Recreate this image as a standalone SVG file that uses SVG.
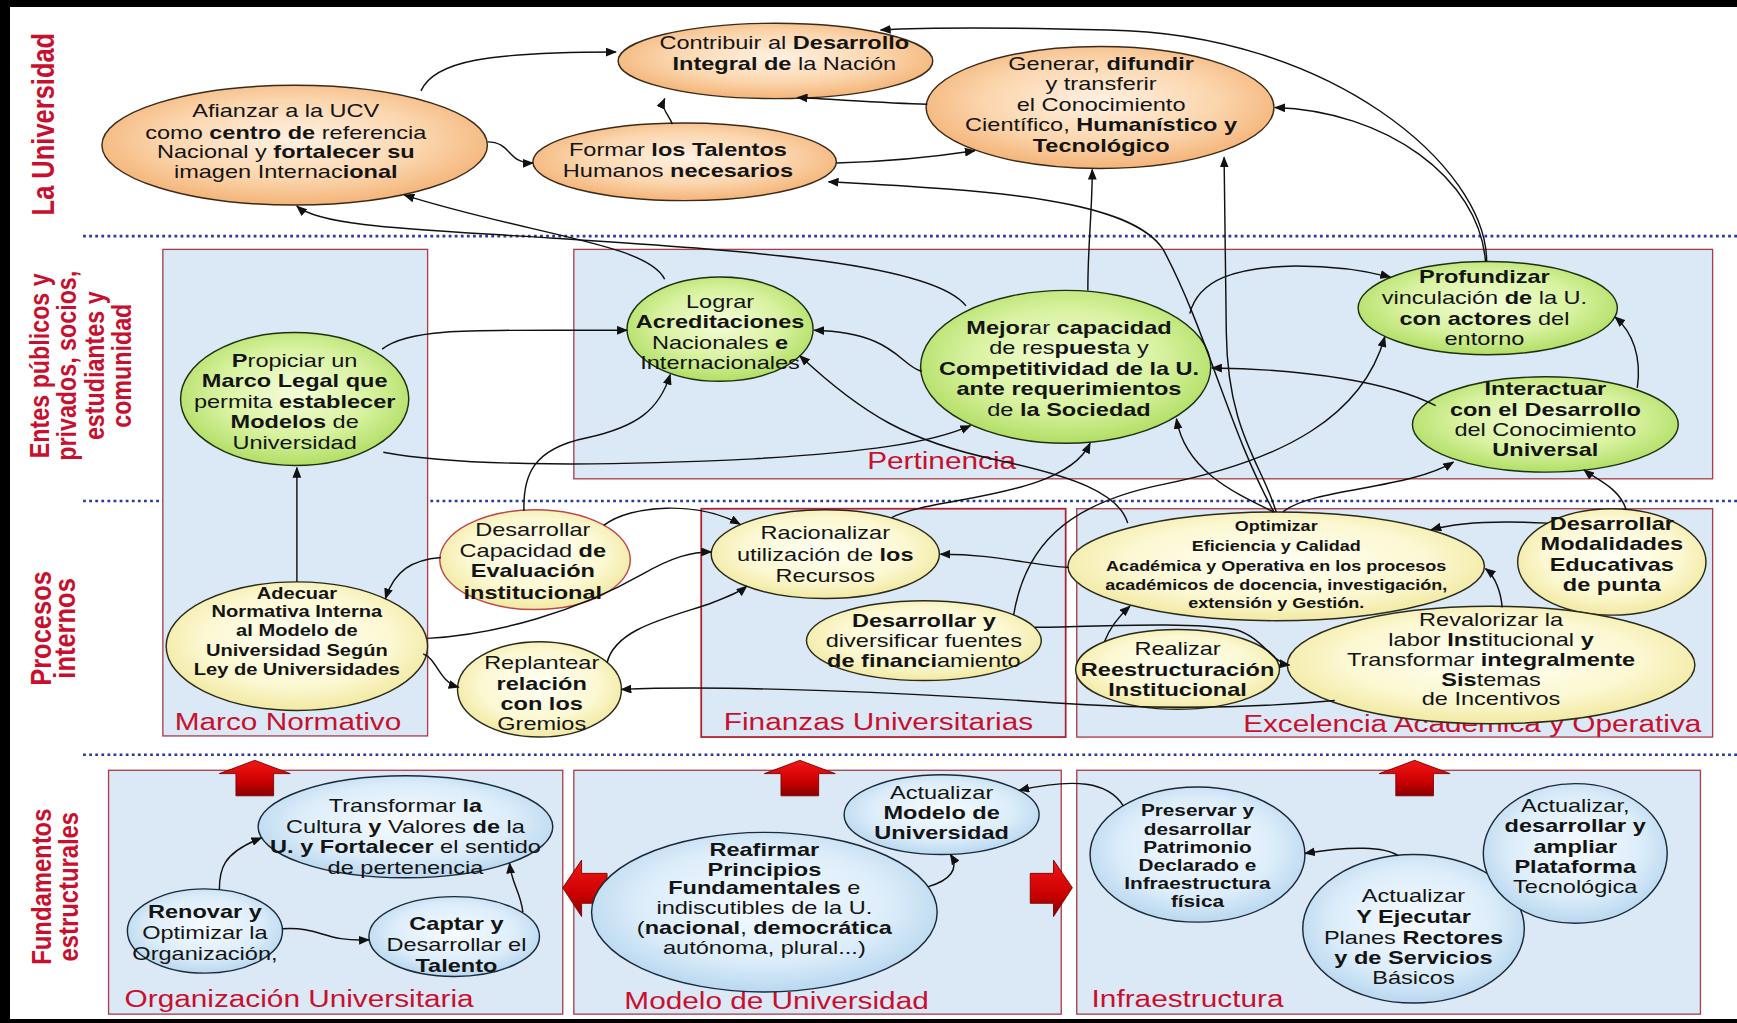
<svg xmlns="http://www.w3.org/2000/svg" width="1737" height="1023" viewBox="0 0 1737 1023">
<defs>
<style>
.t{font-family:"Liberation Sans",Arial,sans-serif;font-size:17px;fill:#141414;text-anchor:middle;transform-box:fill-box;transform-origin:center;transform:scaleX(1.25)}
.sm{font-size:14.5px;font-weight:bold}
.xs{font-size:13px;font-weight:bold}
.pv{font-size:15px;font-weight:bold}
.b{font-weight:bold}
.bl{font-family:"Liberation Sans",Arial,sans-serif;font-size:21.5px;fill:#c8102e;text-anchor:middle;transform-box:fill-box;transform-origin:center;transform:scaleX(1.25)}
.rl{font-family:"Liberation Sans",Arial,sans-serif;font-weight:bold;fill:#c8102e;text-anchor:middle}
.box{fill:#dbe8f6;stroke:#a8404a;stroke-width:1.2}
.o{fill:url(#gO);stroke:#3a2a1a;stroke-width:1.3}
.g{fill:url(#gG);stroke:#1e3010;stroke-width:1.3}
.y{fill:url(#gY);stroke:#2a2a1a;stroke-width:1.3}
.yr{fill:url(#gY);stroke:#c04848;stroke-width:1.3}
.u{fill:url(#gB);stroke:#1a2a3a;stroke-width:1.3}
.c{fill:none;stroke:#111;stroke-width:1.3;marker-end:url(#ah)}
.dot{stroke:#2a3a9c;stroke-width:2.4;stroke-dasharray:2.5 3}
.ba{fill:url(#gR);stroke:#7a0000;stroke-width:0.8}
</style>
<radialGradient id="gO" cx="0.5" cy="0.45" r="0.6"><stop offset="0" stop-color="#fff1e2"/><stop offset="0.55" stop-color="#fbd6ae"/><stop offset="1" stop-color="#f2ac6c"/></radialGradient>
<radialGradient id="gG" cx="0.5" cy="0.45" r="0.6"><stop offset="0" stop-color="#f4fdd8"/><stop offset="0.55" stop-color="#d8f2a0"/><stop offset="1" stop-color="#a8da58"/></radialGradient>
<radialGradient id="gY" cx="0.5" cy="0.45" r="0.6"><stop offset="0" stop-color="#fffff4"/><stop offset="0.6" stop-color="#fcf8d2"/><stop offset="1" stop-color="#efe596"/></radialGradient>
<radialGradient id="gB" cx="0.5" cy="0.45" r="0.6"><stop offset="0" stop-color="#f6fbff"/><stop offset="0.6" stop-color="#dcedfa"/><stop offset="1" stop-color="#b0d2ec"/></radialGradient>
<linearGradient id="gR" x1="0" y1="0" x2="0" y2="1"><stop offset="0" stop-color="#f01818"/><stop offset="0.6" stop-color="#cc0000"/><stop offset="1" stop-color="#8a0000"/></linearGradient>
<marker id="ah" viewBox="0 0 10 8" refX="9" refY="4" markerWidth="10" markerHeight="8" markerUnits="userSpaceOnUse" orient="auto"><path d="M0,0 L10,4 L0,8 z" fill="#111"/></marker>
</defs>
<rect width="1737" height="1023" fill="#ffffff"/>
<g transform="scale(1.10778,1.10834)">
<!-- lane separators -->
<g id="lanes">
<line class="dot" x1="75" y1="213" x2="1568" y2="213"/>
<line class="dot" x1="75" y1="452" x2="1568" y2="452"/>
<line class="dot" x1="75" y1="681" x2="1568" y2="681"/>
<text class="rl" font-size="23" transform="translate(49,112) scale(1.2,1) rotate(-90)">La Universidad</text>
<text class="rl" font-size="21" transform="translate(44,330) scale(1.15,1) rotate(-90)">Entes públicos y</text>
<text class="rl" font-size="21" transform="translate(69,330) scale(1.15,1) rotate(-90)">privados, socios,</text>
<text class="rl" font-size="21" transform="translate(94,330) scale(1.15,1) rotate(-90)">estudiantes y</text>
<text class="rl" font-size="21" transform="translate(118,330) scale(1.15,1) rotate(-90)">comunidad</text>
<text class="rl" font-size="23" transform="translate(46,567) scale(1.15,1) rotate(-90)">Procesos</text>
<text class="rl" font-size="23" transform="translate(68,567) scale(1.15,1) rotate(-90)">internos</text>
<text class="rl" font-size="21.5" transform="translate(46,800) scale(1.15,1) rotate(-90)">Fundamentos</text>
<text class="rl" font-size="21.5" transform="translate(70,800) scale(1.15,1) rotate(-90)">estructurales</text>
</g>
<!-- perspective boxes -->
<g id="box-marco"><rect class="box" x="147" y="225" width="239" height="439"/><text class="bl" x="260" y="659">Marco Normativo</text></g>
<g id="box-pertinencia"><rect class="box" x="518" y="225" width="1028" height="207"/><text class="bl" x="850" y="423">Pertinencia</text></g>
<g id="box-finanzas"><rect class="box" x="633" y="459" width="329" height="206" style="stroke:#b02030;stroke-width:1.6"/><text class="bl" x="793" y="659">Finanzas Universitarias</text></g>
<g id="box-excelencia"><rect class="box" x="972" y="459" width="574" height="206"/><text class="bl" x="1329" y="660">Excelencia Académica y Operativa</text></g>
<g id="box-organizacion"><rect class="box" x="98" y="695" width="410" height="220"/><text class="bl" x="270" y="909">Organización Universitaria</text></g>
<g id="box-modelo"><rect class="box" x="518" y="695" width="440" height="220"/><text class="bl" x="701" y="910">Modelo de Universidad</text></g>
<g id="box-infraestructura"><rect class="box" x="972" y="695" width="563" height="220"/><text class="bl" x="1072" y="909">Infraestructura</text></g>
<!-- block arrows -->
<g id="block-arrows">
<polygon class="ba" points="230,686 262,698 247,698 247,718 213,718 213,698 198,698"/>
<polygon class="ba" points="722,686 754,698 739,698 739,718 705,718 705,698 690,698"/>
<polygon class="ba" points="1277,686 1309,698 1294,698 1294,718 1260,718 1260,698 1245,698"/>
<polygon class="ba" points="508,801 525,776 525,788 548,788 548,815 525,815 525,827"/>
<polygon class="ba" points="968,801 951,776 951,788 930,788 930,815 951,815 951,827"/>
</g>
<!-- nodes: La Universidad -->
<g id="n-contribuir"><ellipse class="o" cx="700" cy="55" rx="142" ry="34"/>
<text class="t"><tspan x="708" y="44">Contribuir al <tspan class="b">Desarrollo</tspan></tspan><tspan x="708" y="63"><tspan class="b">Integral de</tspan> la Nación</tspan></text></g>
<g id="n-afianzar"><ellipse class="o" cx="266" cy="131" rx="174" ry="54"/>
<text class="t"><tspan x="258" y="106">Afianzar a la UCV</tspan><tspan x="258" y="125">como <tspan class="b">centro de</tspan> referencia</tspan><tspan x="258" y="143">Nacional y <tspan class="b">fortalecer su</tspan></tspan><tspan x="258" y="161">imagen Internac<tspan class="b">ional</tspan></tspan></text></g>
<g id="n-formar"><ellipse class="o" cx="618" cy="146" rx="137" ry="35"/>
<text class="t"><tspan x="612" y="141">Formar <tspan class="b">los Talentos</tspan></tspan><tspan x="612" y="160">Humanos <tspan class="b">necesarios</tspan></tspan></text></g>
<g id="n-generar"><ellipse class="o" cx="993" cy="97" rx="157" ry="55"/>
<text class="t"><tspan x="994" y="63">Generar, <tspan class="b">difundir</tspan></tspan><tspan x="994" y="81">y transferir</tspan><tspan x="994" y="100">el Conocimiento</tspan><tspan x="994" y="118">Científico, <tspan class="b">Humanístico y</tspan></tspan><tspan x="994" y="137" class="b">Tecnológico</tspan></text></g>
<!-- nodes: Entes -->
<g id="n-propiciar"><ellipse class="g" cx="266" cy="360" rx="103" ry="60"/>
<text class="t"><tspan x="266" y="331"><tspan class="b">P</tspan>ropiciar un</tspan><tspan x="266" y="349" class="b">Marco Legal que</tspan><tspan x="266" y="368">permita <tspan class="b">establecer</tspan></tspan><tspan x="266" y="386"><tspan class="b">Modelos</tspan> de</tspan><tspan x="266" y="405">Universidad</tspan></text></g>
<g id="n-lograr"><ellipse class="g" cx="650" cy="297" rx="84" ry="47"/>
<text class="t"><tspan x="650" y="278">Lograr</tspan><tspan x="650" y="296" class="b">Acreditaciones</tspan><tspan x="650" y="315">Nacionales <tspan class="b">e</tspan></tspan><tspan x="650" y="333">Internacionales</tspan></text></g>
<g id="n-mejorar"><ellipse class="g" cx="962" cy="331" rx="131" ry="69"/>
<text class="t"><tspan x="965" y="301"><tspan class="b">Mejor</tspan>ar <tspan class="b">capacidad</tspan></tspan><tspan x="965" y="319">de res<tspan class="b">puest</tspan>a y</tspan><tspan x="965" y="338" class="b">Competitividad de la U.</tspan><tspan x="965" y="356" class="b">ante requerimientos</tspan><tspan x="965" y="375">de <tspan class="b">la Sociedad</tspan></tspan></text></g>
<g id="n-profundizar"><ellipse class="g" cx="1343" cy="278" rx="117" ry="42"/>
<text class="t"><tspan x="1340" y="255" class="b">Profundizar</tspan><tspan x="1340" y="274">vinculación <tspan class="b">de</tspan> la U.</tspan><tspan x="1340" y="293"><tspan class="b">con actores</tspan> del</tspan><tspan x="1340" y="311">entorno</tspan></text></g>
<g id="n-interactuar"><ellipse class="g" cx="1395" cy="383" rx="120" ry="43"/>
<text class="t"><tspan x="1395" y="356" class="b">Interactuar</tspan><tspan x="1395" y="375" class="b">con el Desarrollo</tspan><tspan x="1395" y="393">del Conocimiento</tspan><tspan x="1395" y="411" class="b">Universal</tspan></text></g>
<!-- nodes: Procesos internos -->
<g id="n-adecuar"><ellipse class="y" cx="268" cy="583" rx="118" ry="58"/>
<text class="t sm"><tspan x="268" y="540">Adecuar</tspan><tspan x="268" y="557">Normativa Interna</tspan><tspan x="268" y="574">al Modelo de</tspan><tspan x="268" y="592">Universidad Según</tspan><tspan x="268" y="609">Ley de Universidades</tspan></text></g>
<g id="n-evaluacion"><ellipse class="yr" cx="483" cy="505" rx="86" ry="45"/>
<text class="t"><tspan x="481" y="484">Desarrollar</tspan><tspan x="481" y="503">Capacidad <tspan class="b">de</tspan></tspan><tspan x="481" y="521" class="b">Evaluación</tspan><tspan x="481" y="540" class="b">institucional</tspan></text></g>
<g id="n-racionalizar"><ellipse class="y" cx="745" cy="500" rx="103" ry="40"/>
<text class="t"><tspan x="745" y="486">Racionalizar</tspan><tspan x="745" y="506">utilización de <tspan class="b">los</tspan></tspan><tspan x="745" y="525">Recursos</tspan></text></g>
<g id="n-fuentes"><ellipse class="y" cx="834" cy="578" rx="106" ry="36"/>
<text class="t"><tspan x="834" y="566" class="b">Desarrollar y</tspan><tspan x="834" y="584">diversificar fuentes</tspan><tspan x="834" y="602"><tspan class="b">de financi</tspan>amiento</tspan></text></g>
<g id="n-replantear"><ellipse class="y" cx="487" cy="622" rx="74" ry="43"/>
<text class="t"><tspan x="489" y="604">Replantear</tspan><tspan x="489" y="623" class="b">relación</tspan><tspan x="489" y="641" class="b">con los</tspan><tspan x="489" y="659">Gremios</tspan></text></g>
<g id="n-optimizar"><ellipse class="y" cx="1152" cy="511" rx="188" ry="49"/>
<text class="t xs"><tspan x="1152" y="479">Optimizar</tspan><tspan x="1152" y="497">Eficiencia y Calidad</tspan><tspan x="1152" y="515">Académica y Operativa en los procesos</tspan><tspan x="1152" y="532">académicos de docencia, investigación,</tspan><tspan x="1152" y="549">extensión y Gestión.</tspan></text></g>
<g id="n-modalidades"><ellipse class="y" cx="1455" cy="507" rx="85" ry="48"/>
<text class="t b"><tspan x="1455" y="478">Desarrollar</tspan><tspan x="1455" y="496">Modalidades</tspan><tspan x="1455" y="515">Educativas</tspan><tspan x="1455" y="533">de punta</tspan></text></g>
<g id="n-realizar"><ellipse class="y" cx="1063" cy="604" rx="92" ry="36"/>
<text class="t"><tspan x="1063" y="591">Realizar</tspan><tspan x="1063" y="610" class="b">Reestructuración</tspan><tspan x="1063" y="628" class="b">Institucional</tspan></text></g>
<g id="n-revalorizar"><ellipse class="y" cx="1346" cy="600" rx="184" ry="53"/>
<text class="t"><tspan x="1346" y="565">Revalorizar la</tspan><tspan x="1346" y="583">labor <tspan class="b">Ins</tspan>titucional <tspan class="b">y</tspan></tspan><tspan x="1346" y="601">Transformar <tspan class="b">integralmente</tspan></tspan><tspan x="1346" y="619"><tspan class="b">Sis</tspan>temas</tspan><tspan x="1346" y="636">de Incentivos</tspan></text></g>
<!-- nodes: Fundamentos estructurales -->
<g id="n-cultura"><ellipse class="u" cx="366" cy="746" rx="133" ry="46"/>
<text class="t"><tspan x="366" y="733">Transformar <tspan class="b">la</tspan></tspan><tspan x="366" y="752">Cultura <tspan class="b">y</tspan> Valores <tspan class="b">de</tspan> la</tspan><tspan x="366" y="770"><tspan class="b">U. y Fortalecer</tspan> el sentido</tspan><tspan x="366" y="789">de pertenencia</tspan></text></g>
<g id="n-renovar"><ellipse class="u" cx="185" cy="840" rx="70" ry="38"/>
<text class="t"><tspan x="185" y="828" class="b">Renovar y</tspan><tspan x="185" y="847">Optimizar la</tspan><tspan x="185" y="866">Organización,</tspan></text></g>
<g id="n-captar"><ellipse class="u" cx="410" cy="845" rx="77" ry="36"/>
<text class="t"><tspan x="412" y="839" class="b">Captar y</tspan><tspan x="412" y="858">Desarrollar el</tspan><tspan x="412" y="877" class="b">Talento</tspan></text></g>
<g id="n-reafirmar"><ellipse class="u" cx="690" cy="823" rx="156" ry="72"/>
<text class="t"><tspan x="690" y="772" class="b">Reafirmar</tspan><tspan x="690" y="790" class="b">Principios</tspan><tspan x="690" y="807"><tspan class="b">Fundamentales</tspan> e</tspan><tspan x="690" y="825">indiscutibles de la U.</tspan><tspan x="690" y="843">(<tspan class="b">nacional</tspan>, <tspan class="b">democrática</tspan></tspan><tspan x="690" y="861">autónoma, plural...)</tspan></text></g>
<g id="n-actmodelo"><ellipse class="u" cx="850" cy="735" rx="88" ry="36"/>
<text class="t"><tspan x="850" y="721">Actualizar</tspan><tspan x="850" y="739" class="b">Modelo de</tspan><tspan x="850" y="757" class="b">Universidad</tspan></text></g>
<g id="n-preservar"><ellipse class="u" cx="1081" cy="771" rx="97" ry="61"/>
<text class="t pv"><tspan x="1081" y="736">Preservar y</tspan><tspan x="1081" y="753">desarrollar</tspan><tspan x="1081" y="770">Patrimonio</tspan><tspan x="1081" y="786">Declarado e</tspan><tspan x="1081" y="802">Infraestructura</tspan><tspan x="1081" y="818">física</tspan></text></g>
<g id="n-planes"><ellipse class="u" cx="1276" cy="838" rx="100" ry="67"/>
<text class="t"><tspan x="1276" y="814">Actualizar</tspan><tspan x="1276" y="833" class="b">Y Ejecutar</tspan><tspan x="1276" y="852">Planes <tspan class="b">Rectores</tspan></tspan><tspan x="1276" y="870" class="b">y de Servicios</tspan><tspan x="1276" y="888">Básicos</tspan></text></g>
<g id="n-plataforma"><ellipse class="u" cx="1422" cy="770" rx="83" ry="63"/>
<text class="t"><tspan x="1422" y="733">Actualizar,</tspan><tspan x="1422" y="751" class="b">desarrollar y</tspan><tspan x="1422" y="770" class="b">ampliar</tspan><tspan x="1422" y="788" class="b">Plataforma</tspan><tspan x="1422" y="806">Tecnológica</tspan></text></g>
<!-- connectors -->
<g id="connectors">
<path class="c" d="M380 82 C392 55 440 47 556 47"/>
<path class="c" d="M440 128 C462 128 458 148 481 147"/>
<path class="c" d="M607 112 C603 102 596 98 600 89"/>
<path class="c" d="M837 94 C800 93 760 90 720 88"/>
<path class="c" d="M755 147 C800 146 840 142 880 136"/>
<path class="c" d="M1342 236 C1342 150 1200 30 1000 27 C920 25 850 24 795 27"/>
<path class="c" d="M1341 236 C1335 160 1250 100 1151 97"/>
<path class="c" d="M1152 462 C1140 420 1108 390 1107 300 L1105 142"/>
<path class="c" d="M1150 462 C1110 390 1090 300 1050 225 C1020 180 900 172 748 164"/>
<path class="c" d="M600 252 C585 220 480 212 365 176"/>
<path class="c" d="M872 276 C840 235 650 225 500 215 C380 207 290 205 268 186"/>
<path class="c" d="M345 315 C370 295 430 298 566 298"/>
<path class="c" d="M346 408 C420 422 560 420 680 414 C780 408 840 400 876 384"/>
<path class="c" d="M473 461 C472 430 480 405 530 395 C575 385 595 370 605 338"/>
<path class="c" d="M1018 472 C1010 445 970 430 900 415 C820 398 780 375 722 321"/>
<path class="c" d="M832 335 C812 330 808 300 735 298"/>
<path class="c" d="M982 262 C982 220 986 190 986 153"/>
<path class="c" d="M1074 283 C1082 252 1115 241 1170 240 C1205 240 1232 244 1255 250"/>
<path class="c" d="M1296 366 C1255 345 1180 333 1094 332"/>
<path class="c" d="M1478 350 C1482 322 1474 300 1458 286"/>
<path class="c" d="M915 555 C925 495 960 455 1050 437 C1160 415 1230 375 1250 304"/>
<path class="c" d="M805 467 C840 448 960 450 984 400"/>
<path class="c" d="M1150 462 C1115 445 1070 425 1062 378"/>
<path class="c" d="M1158 462 C1185 440 1270 442 1312 417"/>
<path class="c" d="M1468 460 C1462 440 1440 432 1430 424"/>
<path class="c" d="M268 525 L268 422"/>
<path class="c" d="M398 503 C372 505 356 515 348 540"/>
<path class="c" d="M386 576 C450 572 520 552 580 518 C608 502 625 498 642 498"/>
<path class="c" d="M382 590 C395 595 396 615 414 620"/>
<path class="c" d="M545 474 C570 455 630 452 668 473"/>
<path class="c" d="M548 598 C555 568 600 558 640 545 C658 538 668 534 674 529"/>
<path class="c" d="M965 512 C930 510 900 500 849 500"/>
<path class="c" d="M1205 632 C1120 640 1040 640 950 634 C820 625 660 618 561 622"/>
<path class="c" d="M934 566 C980 566 1070 560 1115 568 C1140 575 1148 598 1164 600"/>
<path class="c" d="M997 579 C1002 566 1010 556 1020 547"/>
<path class="c" d="M1356 548 C1355 535 1350 520 1341 513"/>
<path class="c" d="M1397 472 C1360 470 1320 470 1292 478"/>
<path class="c" d="M198 803 C198 785 200 770 236 756"/>
<path class="c" d="M255 838 C290 836 292 850 333 848"/>
<path class="c" d="M472 823 C470 805 462 798 460 779"/>
<path class="c" d="M838 800 C858 794 866 784 858 771"/>
<path class="c" d="M1014 727 C1000 705 970 702 920 713"/>
<path class="c" d="M1262 772 C1250 764 1220 763 1178 770"/>
</g>
</g>
<!-- frame -->
<rect x="0" y="0" width="1737" height="7" fill="#000"/>
<rect x="0" y="0" width="10" height="1023" fill="#000"/>
<rect x="0" y="1019" width="1737" height="4" fill="#000"/>
</svg>
